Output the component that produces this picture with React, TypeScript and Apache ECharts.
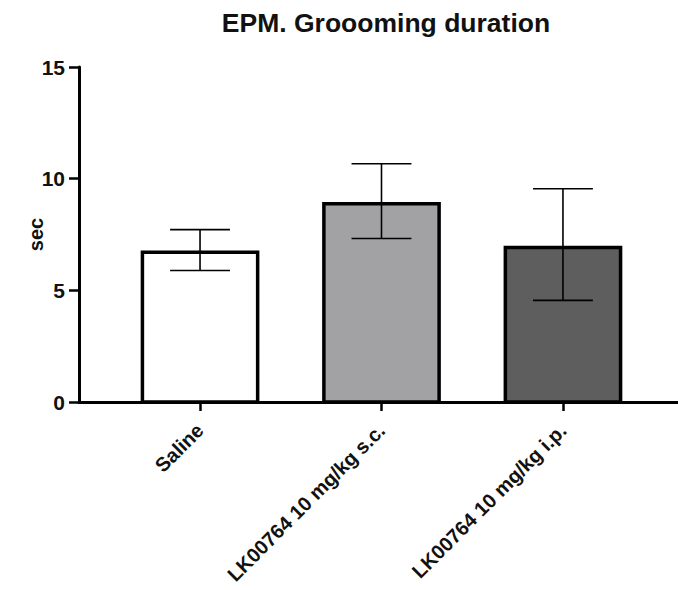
import React, { useEffect, useRef } from "react";
import * as echarts from "echarts";

const categories = ["Saline", "LK00764 10 mg/kg s.c.", "LK00764 10 mg/kg i.p."];
const means = [6.7, 8.88, 6.92];
const errLow = [5.89, 7.32, 4.55];
const errHigh = [7.72, 10.67, 9.55];
const barColors = ["#ffffff", "#a2a2a4", "#5e5e5e"];
const yTicks = [0, 5, 10, 15];

const FONT = "'Liberation Sans', Arial, Helvetica, sans-serif";

export default function App() {
  const ref = useRef<HTMLDivElement>(null);
  useEffect(() => {
    if (!ref.current) return;
    const chart = echarts.init(ref.current, undefined, { renderer: "svg" });
    const idx = categories.map((_, i) => i);
    chart.setOption({
      animation: false,
      backgroundColor: "#ffffff",
      title: {
        text: "EPM. Groooming duration",
        left: 381,
        textAlign: "center",
        top: 4,
        textStyle: { fontFamily: FONT, fontWeight: "bold", fontSize: 26.5, color: "#111" },
      },
      grid: { left: 79, right: 0, top: 67, bottom: 188, containLabel: false, outerBoundsMode: "none" },
      xAxis: {
        type: "value",
        min: -0.667,
        max: 2.634,
        splitLine: { show: false },
        axisLine: { show: true, onZero: false, lineStyle: { color: "#000", width: 3 } },
        axisTick: { show: true, customValues: idx, length: 9, lineStyle: { color: "#000", width: 2.5 } },
        axisLabel: {
          show: true,
          customValues: idx,
          formatter: (v: number) => categories[Math.round(v)] ?? "",
          rotate: 45,
          margin: 25,
          fontFamily: FONT,
          fontWeight: "bold",
          fontSize: 20,
          color: "#111",
        },
      },
      yAxis: {
        type: "value",
        min: yTicks[0],
        max: yTicks[yTicks.length - 1],
        interval: 5,
        name: "sec",
        nameLocation: "middle",
        nameRotate: 90,
        nameGap: 33,
        nameMoveOverlap: false,
        nameTextStyle: { fontFamily: FONT, fontWeight: "bold", fontSize: 20, color: "#111" },
        splitLine: { show: false },
        axisLine: { show: true, onZero: false, lineStyle: { color: "#000", width: 3 } },
        axisTick: { show: true, length: 10, lineStyle: { color: "#000", width: 2.5 } },
        axisLabel: { margin: 14, fontFamily: FONT, fontWeight: "bold", fontSize: 21, color: "#111" },
      },
      series: [
        {
          type: "custom",
          data: means.map((m, i) => [i, m]),
          renderItem: (params: any, api: any) => {
            const x = api.value(0);
            const y = api.value(1);
            const top = api.coord([x, y]);
            const base = api.coord([x, 0]);
            const w = api.size([1, 0])[0] * 0.635;
            return {
              type: "rect",
              shape: { x: top[0] - w / 2, y: top[1], width: w, height: base[1] - top[1] },
              style: { fill: barColors[params.dataIndex], stroke: "#000", lineWidth: 3.5 },
            };
          },
          z: 2,
        },
        {
          type: "custom",
          data: means.map((_, i) => [i, errLow[i], errHigh[i]]),
          renderItem: (params: any, api: any) => {
            const x = api.value(0);
            const lo = api.coord([x, api.value(1)]);
            const hi = api.coord([x, api.value(2)]);
            const hw = api.size([1, 0])[0] * 0.165;
            const st = { stroke: "#000", lineWidth: 1.6 };
            return {
              type: "group",
              children: [
                { type: "line", shape: { x1: hi[0], y1: hi[1], x2: lo[0], y2: lo[1] }, style: st },
                { type: "line", shape: { x1: hi[0] - hw, y1: hi[1], x2: hi[0] + hw, y2: hi[1] }, style: st },
                { type: "line", shape: { x1: lo[0] - hw, y1: lo[1], x2: lo[0] + hw, y2: lo[1] }, style: st },
              ],
            };
          },
          z: 3,
        },
      ],
    });
    return () => chart.dispose();
  }, []);
  return (
    <div
      ref={ref}
      style={{ position: "fixed", left: 0, top: 0, width: 678, height: 590, background: "#fff" }}
    />
  );
}
